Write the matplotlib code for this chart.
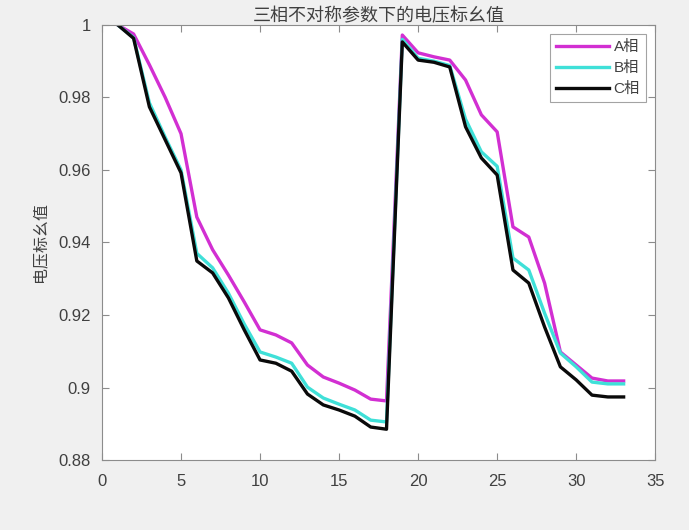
import numpy as np
import matplotlib
matplotlib.use("Agg")
import matplotlib.pyplot as plt
from matplotlib.ticker import FuncFormatter, MultipleLocator

plt.rcParams["font.family"] = ["Liberation Sans", "Noto Sans CJK SC", "DejaVu Sans"]

# ── Data: per-unit voltage at each of the 33 buses ──────────────────────────
bus = np.arange(1, 34)
phase_a = [1.0, 0.9975, 0.989, 0.980, 0.970, 0.947, 0.938, 0.931, 0.9236, 0.9159,
           0.9145, 0.9123, 0.9062, 0.9029, 0.9012, 0.8993, 0.8968, 0.8963,
           0.9972, 0.9923, 0.9912, 0.9903, 0.9848, 0.9752, 0.9705, 0.9443,
           0.9415, 0.9288, 0.9098, 0.9062, 0.9026, 0.9018, 0.9018]
phase_b = [1.0, 0.9965, 0.9785, 0.969, 0.960, 0.937, 0.933, 0.926, 0.9175, 0.9098,
           0.9084, 0.9067, 0.9001, 0.8971, 0.8954, 0.8938, 0.8910, 0.8905,
           0.9960, 0.9908, 0.9900, 0.9888, 0.974, 0.965, 0.961, 0.9357,
           0.9324, 0.9205, 0.9095, 0.9057, 0.9015, 0.9010, 0.9010]
phase_c = [1.0, 0.9963, 0.9774, 0.9683, 0.9592, 0.9349, 0.9316, 0.9247, 0.9159, 0.9076,
           0.9067, 0.9045, 0.8982, 0.8952, 0.8938, 0.8921, 0.8891, 0.8885,
           0.9953, 0.9903, 0.9897, 0.9884, 0.9719, 0.9633, 0.9586, 0.9324,
           0.9288, 0.9167, 0.9057, 0.9021, 0.8979, 0.8974, 0.8974]
labels = ["A相", "B相", "C相"]

# ── Figure ───────────────────────────────────────────────────────────────────
fig = plt.figure(figsize=(6.89, 5.30), dpi=100)
fig.patch.set_facecolor("#f0f0f0")
ax = fig.add_axes([0.148, 0.132, 0.803, 0.821])
ax.set_facecolor("white")

ax.plot(bus, phase_a, color="#d22fd2", lw=2.4, label=labels[0])
ax.plot(bus, phase_b, color="#3fe0d8", lw=2.4, label=labels[1])
ax.plot(bus, phase_c, color="#0a0a0a", lw=2.4, label=labels[2])

ax.set_xlim(0, 35)
ax.set_ylim(0.88, 1.0)
ax.xaxis.set_major_locator(MultipleLocator(5))
ax.yaxis.set_major_locator(MultipleLocator(0.02))
ax.yaxis.set_major_formatter(FuncFormatter(lambda v, p: f"{v:g}"))
ax.tick_params(direction="in", top=True, right=True, length=5, width=0.8,
               color="#8c8c8c", labelcolor="#404040", labelsize=12)
ax.tick_params(axis="x", pad=10)
ax.tick_params(axis="y", pad=8)
for s in ax.spines.values():
    s.set_color("#8c8c8c")
    s.set_linewidth(0.8)

ax.set_title("三相不对称参数下的电压标幺值", fontsize=13, color="#404040",
             family=["Noto Sans CJK SC", "DejaVu Sans"], pad=3)
ax.set_ylabel("电压标幺值", fontsize=11.5, color="#404040",
              family=["Noto Sans CJK SC", "DejaVu Sans"], labelpad=7)

leg = ax.legend(loc="upper right", fontsize=11, frameon=True, fancybox=False,
                handlelength=3.5, handletextpad=0.3, borderpad=0.4,
                labelspacing=0.45, borderaxespad=0.6)
leg.get_frame().set_edgecolor("#8c8c8c")
leg.get_frame().set_linewidth(0.8)
for t in leg.get_texts():
    t.set_color("#404040")

plt.savefig("out.png", dpi=100, facecolor=fig.get_facecolor())
plt.close()
